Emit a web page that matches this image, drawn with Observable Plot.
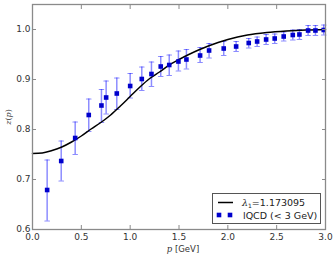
<!DOCTYPE html>
<html><head><meta charset="utf-8">
<script src="https://cdn.jsdelivr.net/npm/d3@7"></script>
<script src="https://cdn.jsdelivr.net/npm/@observablehq/plot@0.6"></script>
<style>body{margin:0;background:#fff} svg{display:block}</style>
</head><body><div id="chart"></div>
<script>
// lattice QCD points
const pVals = [0.15,0.294,0.437,0.576,0.706,0.754,0.863,1.0,1.119,1.218,1.313,1.40,1.494,1.576,1.716,1.808,1.958,2.085,2.214,2.30,2.392,2.48,2.572,2.665,2.733,2.822,2.897,2.982];
const zVals = [0.679,0.737,0.783,0.829,0.848,0.864,0.872,0.887,0.901,0.911,0.926,0.929,0.936,0.940,0.948,0.958,0.962,0.966,0.973,0.976,0.980,0.982,0.986,0.989,0.990,0.998,0.998,0.999];
const zLow  = [0.617,0.697,0.750,0.796,0.814,0.831,0.840,0.863,0.878,0.886,0.906,0.908,0.917,0.921,0.934,0.943,0.948,0.956,0.963,0.966,0.970,0.972,0.977,0.979,0.980,0.988,0.988,0.989];
const zHigh = [0.739,0.777,0.815,0.861,0.880,0.897,0.903,0.912,0.925,0.935,0.946,0.949,0.957,0.960,0.964,0.972,0.976,0.976,0.982,0.985,0.990,0.991,0.995,0.999,1.000,1.008,1.008,1.009];
// fitted curve
const curveP = [0.0,0.1,0.2,0.3,0.4,0.5,0.6,0.7,0.8,0.9,1.0,1.1,1.2,1.3,1.4,1.5,1.6,1.7,1.8,1.9,2.0,2.1,2.2,2.4,2.6,2.8,3.0];
const curveZ = [0.752,0.753,0.758,0.765,0.775,0.787,0.801,0.814,0.829,0.847,0.866,0.885,0.902,0.915,0.929,0.940,0.950,0.959,0.967,0.974,0.980,0.985,0.989,0.994,0.997,0.999,1.0];
const xTicks = [0,0.5,1.0,1.5,2.0,2.5,3.0];
const yTicks = [0.6,0.7,0.8,0.9,1.0];
const fitLabel = "=1.173095";
const dataLabel = "lQCD (< 3 GeV)";

const points = pVals.map((p,i)=>({p, z:zVals[i], lo:zLow[i], hi:zHigh[i]}));
const curve = curveP.map((p,i)=>({p, z:curveZ[i]}));

const spine = "#8a8a8a";
const tickFont = {fontSize: 9, fontFamily: "DejaVu Sans", fill: "#333"};
const capShape = {draw(ctx, l){ ctx.moveTo(-l/2, 0); ctx.lineTo(l/2, 0); }};

const chart = Plot.plot({
  width: 333, height: 258,
  marginLeft: 32, marginRight: 8, marginTop: 4, marginBottom: 29,
  x: {domain: [0, 3]},
  y: {domain: [0.6, 1.05]},
  style: {background: "#fff"},
  marks: [
    Plot.ruleX(points, {x: "p", y1: "lo", y2: "hi", stroke: "#0000ff", strokeOpacity: 0.45, strokeWidth: 1.5}),
    Plot.vector(points, {x: "p", y: "lo", length: 4.5, rotate: 0, shape: capShape, anchor: "start", stroke: "#0000ff", strokeOpacity: 0.45, strokeWidth: 1.2}),
    Plot.vector(points, {x: "p", y: "hi", length: 4.5, rotate: 0, shape: capShape, anchor: "start", stroke: "#0000ff", strokeOpacity: 0.45, strokeWidth: 1.2}),
    Plot.line(curve, {x: "p", y: "z", stroke: "#000", strokeWidth: 1.5, curve: "monotone-x"}),
    Plot.dot(points, {x: "p", y: "z", symbol: "square", r: 2.6, fill: "#0000cc", stroke: "none"}),
    Plot.axisX({ticks: xTicks, tickFormat: d3.format(".1f"), tickSize: -4, tickPadding: 8, stroke: spine, label: null, ...tickFont}),
    Plot.axisX({anchor: "top", ticks: xTicks, tickFormat: () => "", tickSize: -4, stroke: spine, label: null}),
    Plot.axisY({ticks: yTicks, tickFormat: d3.format(".1f"), tickSize: -4, tickPadding: 6, stroke: spine, label: null, ...tickFont}),
    Plot.axisY({anchor: "right", ticks: yTicks, tickFormat: () => "", tickSize: -4, stroke: spine, label: null}),
    Plot.frame({stroke: spine, strokeWidth: 1.3})
  ]
});
document.getElementById("chart").appendChild(chart);

const svg = d3.select(chart);
// axis labels
const xl = svg.append("text").attr("x", 183).attr("y", 252).attr("text-anchor", "middle")
  .attr("font-size", 8.5).attr("fill", "#333").attr("font-family", "DejaVu Sans");
xl.append("tspan").attr("font-family", "DejaVu Serif").attr("font-style", "italic").text("p");
xl.append("tspan").text(" [GeV]");
const yl = svg.append("text").attr("transform", "translate(11,117) rotate(-90)").attr("text-anchor", "middle")
  .attr("font-size", 8).attr("fill", "#333").attr("font-family", "DejaVu Serif").attr("font-style", "italic");
yl.append("tspan").text("z");
yl.append("tspan").attr("font-style", "normal").text("(");
yl.append("tspan").text("p");
yl.append("tspan").attr("font-style", "normal").text(")");

// legend
const lg = svg.append("g").attr("text-anchor", "start");
lg.append("rect").attr("x", 212.5).attr("y", 193.5).attr("width", 108).attr("height", 30)
  .attr("fill", "#fff").attr("stroke", "#555").attr("stroke-width", 1);
lg.append("line").attr("x1", 218).attr("x2", 233).attr("y1", 202.5).attr("y2", 202.5).attr("stroke", "#000").attr("stroke-width", 1.5);
const t1 = lg.append("text").attr("x", 242).attr("y", 206).attr("text-anchor", "start").attr("font-size", 9.5).attr("fill", "#222").attr("font-family", "DejaVu Sans");
t1.append("tspan").attr("font-family", "DejaVu Serif").attr("font-style", "italic").text("λ");
t1.append("tspan").attr("font-size", 6).attr("dy", 2).text("1");
t1.append("tspan").attr("dy", -2).text(fitLabel);
[219, 230].forEach(cx => lg.append("rect").attr("x", cx - 2.3).attr("y", 212.7).attr("width", 4.6).attr("height", 4.6).attr("fill", "#0000cc"));
lg.append("text").attr("x", 243).attr("y", 218.5).attr("text-anchor", "start").attr("font-size", 9.5).attr("fill", "#222").attr("font-family", "DejaVu Sans").text(dataLabel);
</script></body></html>
